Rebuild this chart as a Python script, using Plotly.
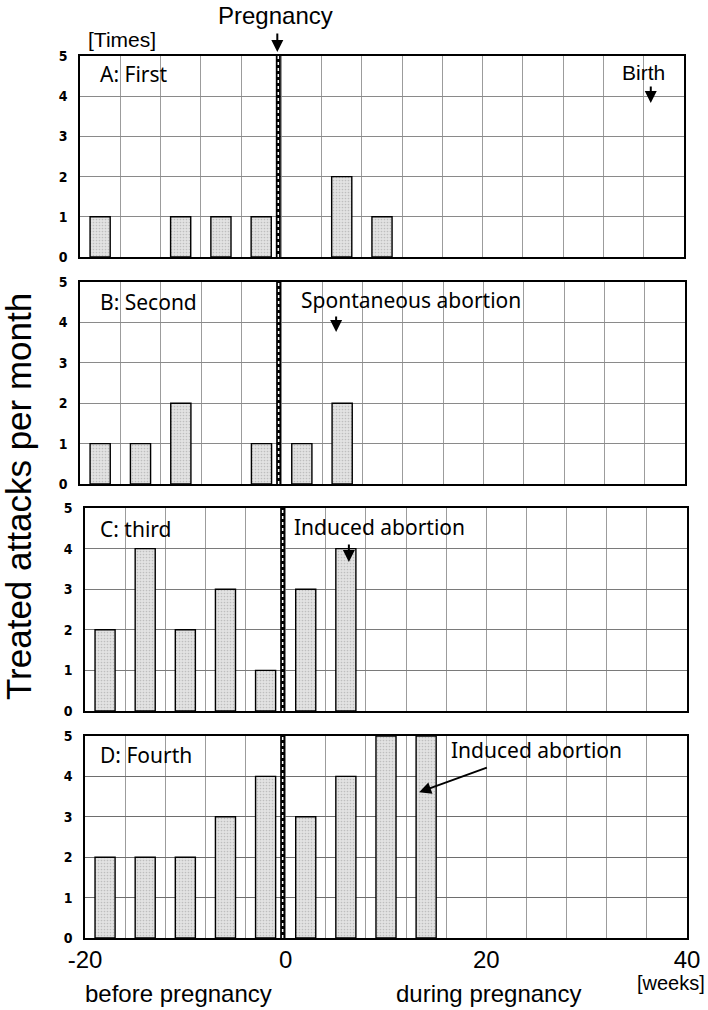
import plotly.graph_objects as go

# ---- data ----
WEEKS_A = [-18, -10, -6, -2, 6, 10]
ATTACKS_A = [1, 1, 1, 1, 2, 1]
WEEKS_B = [-18, -14, -10, -2, 2, 6]
ATTACKS_B = [1, 1, 2, 1, 1, 2]
WEEKS_C = [-18, -14, -10, -6, -2, 2, 6]
ATTACKS_C = [2, 4, 2, 3, 1, 3, 4]
WEEKS_D = [-18, -14, -10, -6, -2, 2, 6, 10, 14]
ATTACKS_D = [2, 2, 2, 3, 4, 3, 4, 5, 5]
PANEL_LABELS = ["A: First", "B: Second", "C: third", "D: Fourth"]
X_TICKS = [-20, 0, 20, 40]
Y_TICKS = [0, 1, 2, 3, 4, 5]
PREGNANCY_WEEK = 0
BIRTH_WEEK = 37
SPONT_ABORTION_WEEK = 5.4
INDUCED_C_WEEK = 6.3
INDUCED_D_WEEK = 13.3

# body margin is removed by a post script, so the figure fills the page
OFF = 0
W, H = 708 - OFF, 1010 - OFF


def px(x):
    return (x - OFF) / W


def py(y):
    return 1 - (y - OFF) / H


NARROW = "Liberation Sans Narrow, Arial Narrow, DejaVu Sans Condensed, sans-serif"
ARIAL = "Liberation Sans, Arial, sans-serif"
NOTE = "Noto Sans, Open Sans, sans-serif"

# panel boxes in page pixels (x0, x1, ytop, ybottom)
boxes = [(80, 684, 56, 257), (80, 685, 282, 484), (85, 687, 508, 711), (85, 687, 736, 938)]
label_y = [74, 302, 529, 755]
hgrid = ["#8a8a8a", "#8a8a8a", "#7a7a7a", "#6e6e6e"]
data = [(WEEKS_A, ATTACKS_A), (WEEKS_B, ATTACKS_B), (WEEKS_C, ATTACKS_C), (WEEKS_D, ATTACKS_D)]

fig = go.Figure()
layout = dict(width=W, height=H, margin=dict(l=0, r=0, t=0, b=0),
              paper_bgcolor="white", plot_bgcolor="white", showlegend=False,
              bargap=0)
shapes = []
annotations = []

for i, ((wk, at), (x0, x1, yt, yb)) in enumerate(zip(data, boxes)):
    n = "" if i == 0 else str(i + 1)
    xa, ya = "x" + n, "y" + n
    fig.add_trace(go.Bar(
        x=wk, y=at, width=2, xaxis=xa, yaxis=ya, hoverinfo="skip",
        marker=dict(color="#dcdcdc", line=dict(color="black", width=1.4),
                    pattern=dict(shape=".", size=3, solidity=0.25,
                                 fgcolor="#9a9a9a", bgcolor="#e2e2e2")),
    ))
    last = i == 3
    layout["xaxis" + n] = dict(
        domain=[px(x0), px(x1)], anchor=ya, range=[-20, 40], automargin=False,
        tickmode="array", tickvals=X_TICKS, ticktext=[str(v) for v in X_TICKS],
        showticklabels=last, ticks="", showgrid=True, gridcolor="#9c9c9c", gridwidth=1,
        minor=dict(dtick=4, tick0=-20, showgrid=True, gridcolor="#9c9c9c", gridwidth=1),
        showline=True, linecolor="black", linewidth=1.6, mirror=True, zeroline=False,
        tickfont=dict(family=ARIAL, size=24, color="black"), fixedrange=True,
    )
    layout["yaxis" + n] = dict(
        domain=[py(yb), py(yt)], anchor=xa, range=[0, 5], automargin=False,
        tickmode="array", tickvals=Y_TICKS, ticks="", showgrid=True,
        gridcolor=hgrid[i], gridwidth=1, showline=True, linecolor="black",
        linewidth=1.6, mirror=True, zeroline=False, ticklabelstandoff=8,
        tickfont=dict(family=NARROW, size=14, color="black", weight="bold"), fixedrange=True,
    )
    # pregnancy line
    shapes.append(dict(type="line", xref=xa, yref=ya, x0=PREGNANCY_WEEK - 0.3, x1=PREGNANCY_WEEK - 0.3,
                       y0=0, y1=5, line=dict(color="black", width=5), layer="above"))
    shapes.append(dict(type="line", xref=xa, yref=ya, x0=PREGNANCY_WEEK - 0.3, x1=PREGNANCY_WEEK - 0.3,
                       y0=0, y1=5, line=dict(color="white", width=1.5, dash="dot"), layer="above"))
    annotations.append(dict(text=PANEL_LABELS[i], xref=xa + " domain", yref=ya + " domain",
                            x=(98 - x0) / (x1 - x0), y=1 - (label_y[i] - yt) / (yb - yt),
                            xanchor="left", yanchor="middle", showarrow=False,
                            font=dict(family=NOTE, size=21, color="black")))

fig.update_layout(**layout)

ARROW = dict(showarrow=True, arrowhead=2, arrowsize=1.2, arrowwidth=2, arrowcolor="black")

# Pregnancy header
annotations.append(dict(text="Pregnancy", xref="x", yref="paper", x=PREGNANCY_WEEK - 0.6,
                        y=py(15), xanchor="center", yanchor="middle", showarrow=False,
                        font=dict(family=ARIAL, size=24, color="black")))
annotations.append(dict(text="", xref="x", yref="paper", x=PREGNANCY_WEEK - 0.4, y=py(52),
                        ax=0, ay=-20, **ARROW))
annotations.append(dict(text="[Times]", xref="paper", yref="paper", x=px(122), y=py(39),
                        xanchor="center", yanchor="middle", showarrow=False,
                        font=dict(family=ARIAL, size=21, color="black")))
# Birth
annotations.append(dict(text="Birth", xref="x", yref="y", x=BIRTH_WEEK - 1.0, y=4.6,
                        xanchor="center", yanchor="middle", showarrow=False,
                        font=dict(family=ARIAL, size=21, color="black")))
annotations.append(dict(text="", xref="x", yref="y", x=BIRTH_WEEK - 0.3, y=3.83,
                        ax=0, ay=-18, **ARROW))
# Spontaneous abortion (B)
annotations.append(dict(text="Spontaneous abortion", xref="x2", yref="y2", x=1.75, y=4.55,
                        xanchor="left", yanchor="middle", showarrow=False,
                        font=dict(family=NOTE, size=21, color="black")))
annotations.append(dict(text="", xref="x2", yref="y2", x=SPONT_ABORTION_WEEK, y=3.76,
                        ax=0, ay=-17, **ARROW))
# Induced abortion (C)
annotations.append(dict(text="Induced abortion", xref="x3", yref="y3", x=0.6, y=4.53,
                        xanchor="left", yanchor="middle", showarrow=False,
                        font=dict(family=NOTE, size=21, color="black")))
annotations.append(dict(text="", xref="x3", yref="y3", x=INDUCED_C_WEEK, y=3.67,
                        ax=0, ay=-19, **ARROW))
# Induced abortion (D)
annotations.append(dict(text="Induced abortion", xref="x4", yref="y4", x=16.3, y=4.65,
                        xanchor="left", yanchor="middle", showarrow=False,
                        font=dict(family=NOTE, size=21, color="black")))
annotations.append(dict(text="", xref="x4", yref="y4", x=INDUCED_D_WEEK, y=3.61,
                        axref="x4", ayref="y4", ax=20.2, ay=4.23, **ARROW))
# bottom labels
annotations.append(dict(text="before pregnancy", xref="paper", yref="paper", x=px(179), y=py(993),
                        xanchor="center", yanchor="middle", showarrow=False,
                        font=dict(family=ARIAL, size=24, color="black")))
annotations.append(dict(text="during pregnancy", xref="paper", yref="paper", x=px(488), y=py(993),
                        xanchor="center", yanchor="middle", showarrow=False,
                        font=dict(family=ARIAL, size=24, color="black")))
annotations.append(dict(text="[weeks]", xref="paper", yref="paper", x=px(707), y=py(983),
                        xanchor="right", yanchor="middle", showarrow=False,
                        font=dict(family=ARIAL, size=20, color="black")))
# y title
annotations.append(dict(text="Treated attacks per month", xref="paper", yref="paper",
                        x=px(18), y=py(497), textangle=-90, xanchor="center", yanchor="middle",
                        showarrow=False, font=dict(family=ARIAL, size=35, color="black")))

fig.update_layout(shapes=shapes, annotations=annotations)
fig.write_html("out.html", config={"displayModeBar": False, "staticPlot": True},
               post_script="document.body.style.margin='0';document.body.style.padding='0';")
